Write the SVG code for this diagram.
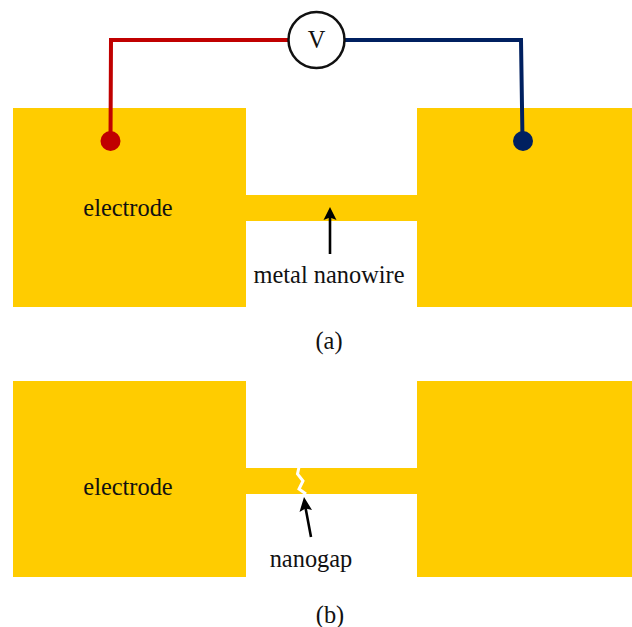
<svg xmlns="http://www.w3.org/2000/svg" width="632" height="627" viewBox="0 0 632 627">
<style>
.e{fill:#ffcc00}
.t{font-family:"Liberation Serif",serif;font-size:24.4px;fill:#111}
.w{fill:none;stroke-width:4;stroke-linejoin:miter}
.a{fill:none;stroke:#000;stroke-width:2.6}
.h{fill:#000}
</style>
<rect width="632" height="627" fill="#fff"/>
<g id="panel-a-electrode-left"><rect class="e" x="13" y="108" width="233" height="199"/><text class="t" x="128" y="216" text-anchor="middle">electrode</text></g>
<g id="panel-a-electrode-right"><rect class="e" x="417" y="108" width="215" height="199"/></g>
<g id="panel-a-nanowire"><rect class="e" x="246" y="195" width="171" height="26"/></g>
<g id="panel-b-electrode-left"><rect class="e" x="13" y="381" width="233" height="196"/><text class="t" x="128" y="495" text-anchor="middle">electrode</text></g>
<g id="panel-b-electrode-right"><rect class="e" x="417" y="381" width="215" height="196"/></g>
<g id="panel-b-nanowire"><rect class="e" x="246" y="468" width="171" height="26"/><path d="M299 467L297.500 474L303 481L299 489L306 494" fill="none" stroke="#fff" stroke-width="3"/></g>
<g id="connectors">
<path class="w" stroke="#c00000" d="M110.500 140L111 40H288"/>
<path class="w" stroke="#002060" d="M345 40H521L522.500 140"/>
<circle cx="110.500" cy="141" r="10" fill="#c00000"/>
<circle cx="523" cy="141" r="10" fill="#002060"/>
<path class="a" d="M330 254V215"/><path class="h" d="M330 207L336.500 220L330 217.500L323.500 220Z"/>
<path class="a" d="M311 537L305 505"/><path class="h" d="M304 497L312 510L305.500 508.500L299.500 512Z"/>
</g>
<g id="voltmeter"><circle cx="316.500" cy="40" r="28" fill="#fff" stroke="#111" stroke-width="2.500"/><text class="t" x="316.500" y="48" text-anchor="middle">V</text></g>
<g id="labels">
<text class="t" x="329" y="283" text-anchor="middle">metal nanowire</text>
<text class="t" x="329" y="349" text-anchor="middle">(a)</text>
<text class="t" x="311" y="567" text-anchor="middle">nanogap</text>
<text class="t" x="330" y="623" text-anchor="middle">(b)</text>
</g>
</svg>
